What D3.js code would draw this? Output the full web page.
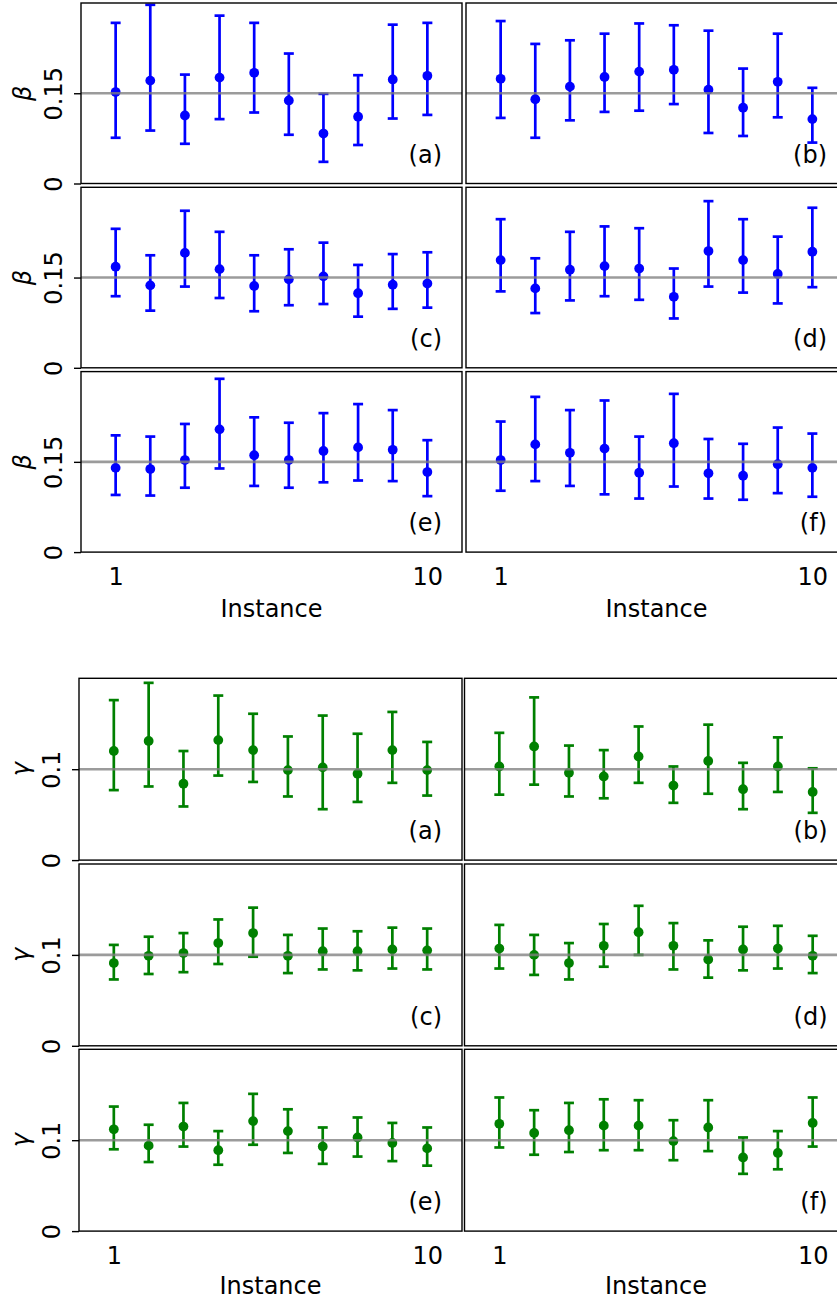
<!DOCTYPE html>
<html>
<head>
<meta charset="utf-8">
<script src="https://cdn.jsdelivr.net/npm/d3@7"></script>
<style>
  body { margin: 0; background: #fff; }
  text { font-family: "DejaVu Sans", sans-serif; }
</style>
</head>
<body>
<div id="chart"></div>
<script>
// instances on the x axis and panel names
var instances = [1, 2, 3, 4, 5, 6, 7, 8, 9, 10];
var panelLabels = ["(a)", "(b)", "(c)", "(d)", "(e)", "(f)"];
var xTicks = [1, 10];

// beta estimates, one row per panel (a)..(f)
var betaMid = [
  [0.152, 0.171, 0.113, 0.176, 0.184, 0.138, 0.083, 0.111, 0.173, 0.179],
  [0.174, 0.140, 0.161, 0.177, 0.186, 0.189, 0.156, 0.126, 0.169, 0.107],
  [0.168, 0.137, 0.191, 0.164, 0.136, 0.147, 0.152, 0.124, 0.138, 0.140],
  [0.179, 0.132, 0.163, 0.169, 0.165, 0.118, 0.194, 0.179, 0.156, 0.193],
  [0.140, 0.138, 0.153, 0.204, 0.161, 0.153, 0.168, 0.174, 0.170, 0.133],
  [0.153, 0.179, 0.165, 0.172, 0.132, 0.181, 0.131, 0.127, 0.146, 0.140]
];
var betaHi = [
  [0.267, 0.297, 0.181, 0.279, 0.267, 0.216, 0.149, 0.180, 0.264, 0.267],
  [0.270, 0.232, 0.238, 0.249, 0.266, 0.263, 0.254, 0.191, 0.249, 0.159],
  [0.231, 0.187, 0.261, 0.226, 0.187, 0.197, 0.208, 0.171, 0.189, 0.192],
  [0.247, 0.182, 0.226, 0.235, 0.232, 0.165, 0.277, 0.247, 0.218, 0.266],
  [0.194, 0.192, 0.213, 0.288, 0.224, 0.215, 0.231, 0.246, 0.236, 0.186],
  [0.217, 0.258, 0.236, 0.252, 0.192, 0.263, 0.188, 0.180, 0.207, 0.197]
];
var betaLo = [
  [0.076, 0.088, 0.066, 0.107, 0.118, 0.081, 0.036, 0.064, 0.108, 0.114],
  [0.109, 0.076, 0.105, 0.119, 0.121, 0.132, 0.084, 0.079, 0.110, 0.068],
  [0.119, 0.095, 0.135, 0.116, 0.094, 0.104, 0.106, 0.085, 0.098, 0.100],
  [0.127, 0.091, 0.112, 0.119, 0.113, 0.082, 0.135, 0.125, 0.107, 0.134],
  [0.095, 0.094, 0.107, 0.139, 0.110, 0.107, 0.116, 0.119, 0.118, 0.093],
  [0.102, 0.118, 0.110, 0.096, 0.089, 0.109, 0.089, 0.087, 0.098, 0.092]
];
var betaTicks = [0, 0.15];

// gamma estimates
var gammaMid = [
  [0.120, 0.131, 0.084, 0.132, 0.121, 0.099, 0.102, 0.095, 0.121, 0.099],
  [0.103, 0.125, 0.096, 0.092, 0.114, 0.082, 0.109, 0.078, 0.103, 0.075],
  [0.091, 0.099, 0.102, 0.113, 0.124, 0.099, 0.104, 0.104, 0.106, 0.105],
  [0.107, 0.100, 0.091, 0.110, 0.125, 0.110, 0.095, 0.106, 0.107, 0.099],
  [0.112, 0.094, 0.115, 0.089, 0.121, 0.110, 0.093, 0.103, 0.097, 0.091],
  [0.118, 0.108, 0.111, 0.116, 0.116, 0.099, 0.114, 0.081, 0.086, 0.119]
];
var gammaHi = [
  [0.176, 0.195, 0.120, 0.181, 0.161, 0.136, 0.159, 0.139, 0.163, 0.130],
  [0.140, 0.179, 0.126, 0.121, 0.147, 0.103, 0.149, 0.107, 0.135, 0.101],
  [0.111, 0.120, 0.124, 0.139, 0.152, 0.122, 0.129, 0.126, 0.130, 0.129],
  [0.133, 0.122, 0.113, 0.134, 0.154, 0.135, 0.116, 0.131, 0.132, 0.121],
  [0.137, 0.117, 0.141, 0.110, 0.151, 0.134, 0.114, 0.125, 0.119, 0.114],
  [0.147, 0.133, 0.141, 0.145, 0.144, 0.122, 0.144, 0.103, 0.110, 0.147]
];
var gammaLo = [
  [0.077, 0.081, 0.059, 0.093, 0.086, 0.070, 0.056, 0.064, 0.085, 0.071],
  [0.072, 0.083, 0.070, 0.068, 0.085, 0.063, 0.073, 0.056, 0.075, 0.052],
  [0.073, 0.079, 0.081, 0.090, 0.098, 0.080, 0.084, 0.083, 0.085, 0.084],
  [0.085, 0.078, 0.073, 0.087, 0.100, 0.084, 0.075, 0.083, 0.085, 0.080],
  [0.090, 0.076, 0.093, 0.073, 0.095, 0.086, 0.074, 0.082, 0.077, 0.072],
  [0.092, 0.084, 0.087, 0.089, 0.089, 0.078, 0.088, 0.063, 0.068, 0.093]
];
var gammaTicks = [0, 0.1];

var width = 837, height = 1301;
var fs = 24;

var svg = d3.select("#chart").append("svg")
    .attr("width", width)
    .attr("height", height);

// layout of the two figure blocks
var blocks = [
  { sym: "β", color: "#0000ff", mid: betaMid, lo: betaLo, hi: betaHi, ticks: betaTicks,
    ymax: 0.3, ref: 0.15, lefts: [81, 466], w: 381, tops: [3, 187.3, 371.6], h: 180.5,
    tickX: 61.5, symX: 31, xlabY: 585.5, instY: 616.5 },
  { sym: "γ", color: "#008000", mid: gammaMid, lo: gammaLo, hi: gammaHi, ticks: gammaTicks,
    ymax: 0.2, ref: 0.1, lefts: [79, 464.5], w: 383, tops: [678.3, 864, 1049.3], h: 181.8,
    tickX: 60, symX: 29, xlabY: 1264.5, instY: 1293.5 }
];

blocks.forEach(function(b) {
  for (var p = 0; p < 6; p++) {
    var row = Math.floor(p / 2), col = p % 2;
    var x0 = b.lefts[col], top = b.tops[row];
    var x = d3.scaleLinear().domain([0, 11]).range([x0, x0 + b.w]);
    var y = d3.scaleLinear().domain([0, b.ymax]).range([top + b.h, top]);

    var g = svg.append("g");

    // error bars
    var pts = instances.map(function(d, i) {
      return { x: d, m: b.mid[p][i], lo: b.lo[p][i], hi: b.hi[p][i] };
    });
    var bars = g.selectAll(".eb").data(pts).enter().append("g")
        .attr("stroke", b.color).attr("stroke-width", 2.7).attr("fill", "none");
    bars.append("line")
        .attr("x1", d => x(d.x)).attr("x2", d => x(d.x))
        .attr("y1", d => y(d.lo)).attr("y2", d => y(d.hi));
    bars.append("line")
        .attr("x1", d => x(d.x) - 5).attr("x2", d => x(d.x) + 5)
        .attr("y1", d => y(d.lo)).attr("y2", d => y(d.lo));
    bars.append("line")
        .attr("x1", d => x(d.x) - 5).attr("x2", d => x(d.x) + 5)
        .attr("y1", d => y(d.hi)).attr("y2", d => y(d.hi));
    g.selectAll(".pt").data(pts).enter().append("circle")
        .attr("cx", d => x(d.x)).attr("cy", d => y(d.m))
        .attr("r", 4.9).attr("fill", b.color);

    // true value line
    g.append("line")
        .attr("x1", x0).attr("x2", x0 + b.w)
        .attr("y1", y(b.ref)).attr("y2", y(b.ref))
        .attr("stroke", "#7f7f7f").attr("stroke-width", 2.6).attr("opacity", 0.78);

    // frame
    g.append("rect")
        .attr("x", x0).attr("y", top).attr("width", b.w).attr("height", b.h)
        .attr("fill", "none").attr("stroke", "#000").attr("stroke-width", 1.4);

    g.append("text")
        .attr("x", x0 + b.w - 20).attr("y", top + b.h - 21)
        .attr("text-anchor", "end").attr("font-size", fs)
        .text(panelLabels[p]);

    if (col == 0) {
      var ya = g.append("g").attr("transform", "translate(" + x0 + ",0)")
          .call(d3.axisLeft(y).tickValues(b.ticks).tickSize(7).tickFormat(String));
      ya.select(".domain").remove();
      ya.selectAll("line").attr("stroke", "#000").attr("stroke-width", 1.4);
      ya.selectAll("text")
          .attr("x", null).attr("dy", null)
          .attr("transform", "translate(" + (b.tickX - x0) + ",0) rotate(-90)")
          .attr("text-anchor", "middle")
          .attr("font-size", fs).attr("font-family", "DejaVu Sans").attr("fill", "#000");
      svg.append("text")
          .attr("transform", "translate(" + b.symX + "," + y(b.ref) + ") rotate(-90)")
          .attr("text-anchor", "middle").attr("font-size", fs).attr("font-style", "italic")
          .text(b.sym);
    }

    if (row == 2) {
      var xa = g.append("g").attr("transform", "translate(0," + (top + b.h) + ")")
          .call(d3.axisBottom(x).tickValues(xTicks).tickSize(0).tickFormat(String));
      xa.select(".domain").remove();
      xa.selectAll("text")
          .attr("y", b.xlabY - (top + b.h)).attr("dy", null)
          .attr("font-size", fs).attr("font-family", "DejaVu Sans").attr("fill", "#000");
      svg.append("text")
          .attr("x", x0 + b.w / 2).attr("y", b.instY)
          .attr("text-anchor", "middle").attr("font-size", fs)
          .text("Instance");
    }
  }
});
</script>
</body>
</html>
